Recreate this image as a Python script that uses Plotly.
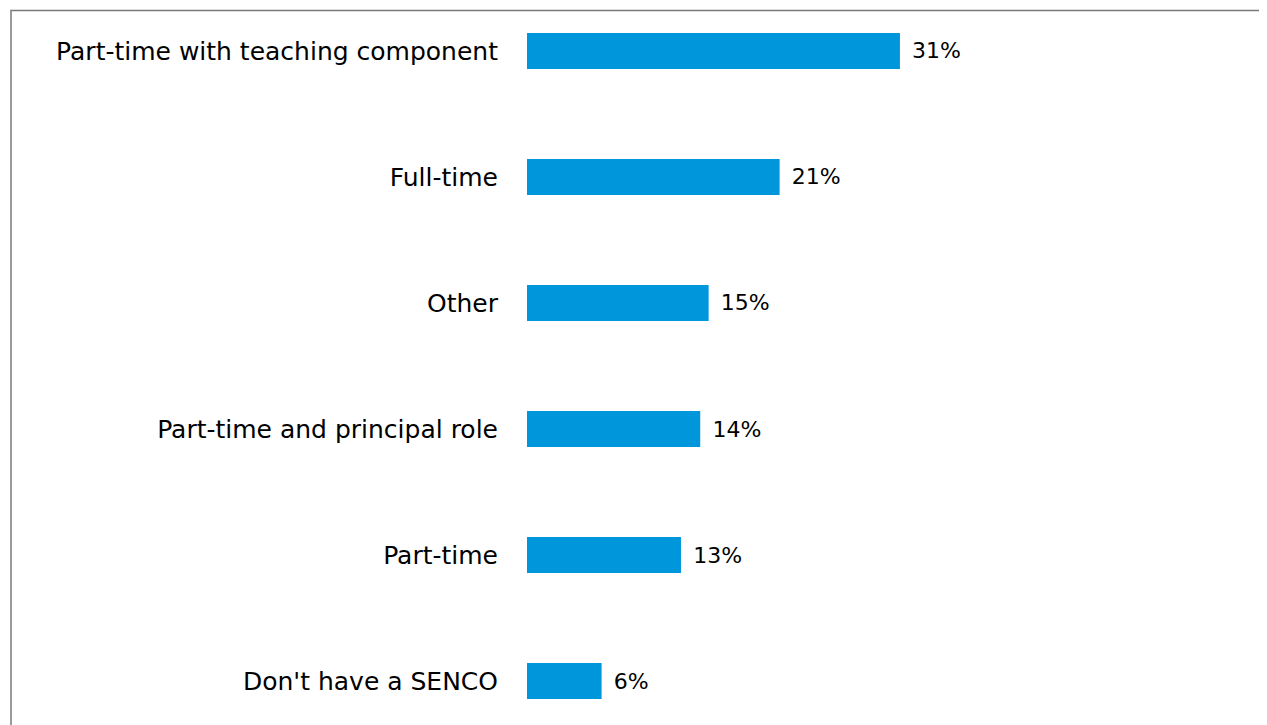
import plotly.graph_objects as go

categories = [
    "Part-time with teaching component",
    "Full-time",
    "Other",
    "Part-time and principal role",
    "Part-time",
    "Don't have a SENCO",
]
shares = [31, 21, 15.1, 14.4, 12.8, 6.2]

PAGE_OFFSET = 8  # default body margin of the html page
W, H = 1267 - PAGE_OFFSET, 725 - PAGE_OFFSET
BAR_LEFT = 527 - PAGE_OFFSET
PX_PER_UNIT = 12.03
X_MAX = 50

fig = go.Figure(
    go.Bar(
        x=shares,
        y=categories,
        orientation="h",
        marker=dict(color="#0096dc", line=dict(width=0)),
        texttemplate="\u00a0\u200a%{x:.0f}%",
        textposition="outside",
        textfont=dict(size=22, color="#000000"),
        cliponaxis=False,
        hoverinfo="skip",
    )
)

x_end = (BAR_LEFT + X_MAX * PX_PER_UNIT) / W

fig.update_layout(
    width=W,
    height=H,
    margin=dict(l=0, r=0, t=0, b=0),
    paper_bgcolor="white",
    plot_bgcolor="white",
    showlegend=False,
    bargap=0.714,
    font=dict(family="DejaVu Sans", size=22, color="#000000"),
    xaxis=dict(
        domain=[BAR_LEFT / W, x_end],
        range=[0, X_MAX],
        visible=False,
        automargin=False,
    ),
    yaxis=dict(
        range=[5.349, -0.341],
        showgrid=False,
        showline=False,
        ticks="",
        ticklabelstandoff=28,
        automargin=False,
        tickfont=dict(size=25, color="#000000"),
    ),
)

# grey frame of the original slide (left and top edges)
fig.add_shape(
    type="path",
    xref="paper",
    yref="paper",
    path=f"M {3 / W} 0 L {3 / W} {1 - 2.5 / H} L 1 {1 - 2.5 / H}",
    line=dict(color="#7a7a7a", width=1.5),
)

fig.write_html("out.html")
